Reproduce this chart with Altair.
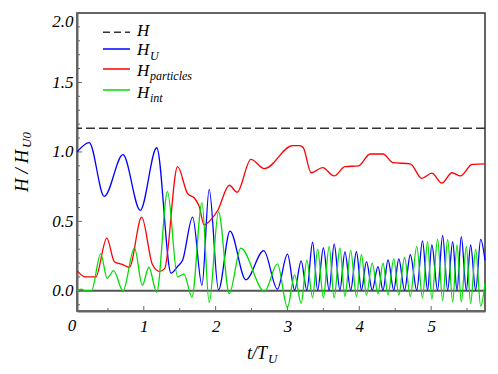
import altair as alt
import pandas as pd

# ---- data ----
HU_T = [0.07, 0.24, 0.45, 0.71, 0.95, 1.18, 1.38, 1.47, 1.54, 1.68, 1.81, 1.91, 2.04, 2.20, 2.42,
        2.67, 2.86, 3.00, 3.10, 3.19, 3.27, 3.35, 3.42, 3.50, 3.58, 3.65, 3.73, 3.80, 3.88, 3.96,
        4.03, 4.10, 4.18, 4.26, 4.33, 4.40, 4.48, 4.55, 4.63, 4.71, 4.80, 4.88, 4.95, 5.01, 5.09,
        5.16, 5.23, 5.30, 5.36, 5.42, 5.49, 5.55, 5.62, 5.69, 5.75]
HU_V = [1.00, 1.067, 0.68, 0.98, 0.58, 1.03, 0.127, 0.175, 0.22, 0.53, 0.04, 0.73, 0.007, 0.43, 0.08,
        0.29, 0.012, 0.265, 0.005, 0.216, 0.005, 0.35, 0.005, 0.31, 0.005, 0.336, 0.005, 0.28, 0.005, 0.283,
        0.005, 0.211, 0.005, 0.175, 0.005, 0.223, 0.005, 0.23, 0.005, 0.26, 0.005, 0.36, 0.005, 0.33, 0.005,
        0.40, 0.005, 0.355, 0.005, 0.39, 0.005, 0.33, 0.005, 0.37, 0.22]

HP_T = [0.07, 0.19, 0.33, 0.485, 0.59, 0.70, 0.80, 0.97, 1.12, 1.22, 1.29, 1.47, 1.61, 1.70, 1.77,
        1.84, 1.94, 2.03, 2.19, 2.30, 2.49, 2.68, 3.07, 3.17, 3.22, 3.33, 3.49, 3.65, 3.80, 3.99,
        4.15, 4.33, 4.47, 4.71, 4.87, 5.01, 5.15, 5.29, 5.41, 5.57, 5.75]
HP_V = [0.146, 0.10, 0.10, 0.38, 0.21, 0.19, 0.17, 0.53, 0.19, 0.14, 0.16, 0.894, 0.70, 0.67, 0.61,
        0.475, 0.516, 0.58, 0.76, 0.71, 0.947, 0.88, 1.045, 1.045, 1.03, 0.85, 0.887, 0.827, 0.894, 0.90,
        0.985, 0.985, 0.923, 0.914, 0.81, 0.847, 0.775, 0.85, 0.827, 0.91, 0.914]

HI_T = [0.07, 0.13, 0.19, 0.27, 0.40, 0.49, 0.58, 0.71, 0.87, 0.98, 1.07, 1.18, 1.33, 1.47, 1.56,
        1.67, 1.81, 1.91, 2.04, 2.19, 2.35, 2.68, 2.86, 3.00, 3.10, 3.19, 3.27, 3.35, 3.42, 3.50,
        3.58, 3.65, 3.73, 3.80, 3.88, 3.96, 4.03, 4.10, 4.18, 4.26, 4.33, 4.40, 4.48, 4.55, 4.63,
        4.71, 4.80, 4.88, 4.95, 5.01, 5.09, 5.16, 5.23, 5.30, 5.36, 5.42, 5.49, 5.55, 5.62, 5.69, 5.75]
HI_V = [0.0, 0.012, 0.0, 0.0, 0.266, 0.09, 0.146, 0.0, 0.31, 0.04, 0.17, -0.01, 0.714, 0.10, 0.12,
        -0.045, 0.635, -0.084, 0.57, -0.02, 0.307, -0.005, 0.194, -0.12, 0.115, -0.09, 0.22, -0.05, 0.30, -0.05,
        0.32, -0.05, 0.31, -0.04, 0.29, -0.04, 0.26, -0.03, 0.20, -0.02, 0.20, -0.03, 0.23, -0.03, 0.24,
        -0.04, 0.32, -0.05, 0.355, -0.06, 0.37, -0.07, 0.37, -0.08, 0.33, -0.08, 0.32, -0.09, 0.30, -0.11, 0.05]

H_TOTAL = [1.17]
ZERO = [0.0]

X_LABELS = [1, 2, 3, 4, 5]
X_ZERO_LABEL = [0]
X_MAJOR_TICKS = [1, 2, 3, 4, 5]
X_HALF_TICKS = [0.5, 1.5, 2.5, 3.5, 4.5, 5.5]
Y_MAJOR = [0.0, 0.5, 1.0, 1.5, 2.0]
Y_MINOR = [-0.1, 0.1, 0.2, 0.3, 0.4, 0.6, 0.7, 0.8, 0.9, 1.1, 1.2, 1.3, 1.4,
           1.6, 1.7, 1.8, 1.9]

# ---- layout ----
W, H = 408, 298
SERIF = "Times New Roman"
x_scale = alt.Scale(domain=[0.07, 5.75], nice=False, zero=False)
y_scale = alt.Scale(domain=[-0.145, 2.0], nice=False, zero=False)

x_axis = alt.Axis(values=X_LABELS, format="d", title=None, ticks=False, grid=False,
                  labelFont=SERIF, labelFontStyle="italic", labelFontSize=17, labelColor="black",
                  labelPadding=7, labelFlush=False, domainColor="#666", domainWidth=2)
y_axis = alt.Axis(values=Y_MAJOR, format=".1f", title=None, ticks=False, grid=False,
                  labelFont=SERIF, labelFontStyle="italic", labelFontSize=17, labelColor="black",
                  labelPadding=4, labelFlush=True, domainColor="#666", domainWidth=2)


def X(field="t"):
    return alt.X(f"{field}:Q", scale=x_scale, axis=x_axis)


def Y(field="v"):
    return alt.Y(f"{field}:Q", scale=y_scale, axis=y_axis)


def series(ts, vs, color):
    df = pd.DataFrame({"t": ts, "v": vs})
    return alt.Chart(df).mark_line(color=color, strokeWidth=1.3, interpolate="monotone").encode(
        x=X(), y=Y())


one = pd.DataFrame({"a": [0]})


def txt(s, x, y, size, angle=0, align="left"):
    return alt.Chart(one).mark_text(text=s, font=SERIF, fontStyle="italic", fontSize=size,
                                    angle=angle, align=align, baseline="alphabetic",
                                    color="black").encode(x=alt.value(x), y=alt.value(y))


def leg_line(y, color, dash=None):
    kw = dict(color=color, strokeWidth=1.5)
    if dash:
        kw["strokeDash"] = dash
    return alt.Chart(one).mark_rule(**kw).encode(x=alt.value(26), x2=alt.value(53), y=alt.value(y))


layers = []

# zero line and dashed total
layers.append(alt.Chart(pd.DataFrame({"v": ZERO})).mark_rule(color="#555", strokeWidth=2).encode(y=Y()))
layers.append(alt.Chart(pd.DataFrame({"v": H_TOTAL})).mark_rule(
    color="#333", strokeWidth=1.5, strokeDash=[9, 4]).encode(y=Y()))

# inward ticks
layers.append(alt.Chart(pd.DataFrame({"v": Y_MAJOR})).mark_rule(color="#666", strokeWidth=1).encode(
    y=Y(), x=alt.value(0), x2=alt.value(5)))
layers.append(alt.Chart(pd.DataFrame({"v": Y_MINOR})).mark_rule(color="#666", strokeWidth=1).encode(
    y=Y(), x=alt.value(0), x2=alt.value(3)))
layers.append(alt.Chart(pd.DataFrame({"t": X_MAJOR_TICKS})).mark_rule(color="#666", strokeWidth=1).encode(
    x=X(), y=alt.value(H), y2=alt.value(H - 5)))
layers.append(alt.Chart(pd.DataFrame({"t": X_HALF_TICKS})).mark_rule(color="#666", strokeWidth=1).encode(
    x=X(), y=alt.value(H), y2=alt.value(H - 3)))

# data series
layers.append(series(HU_T, HU_V, "#0000ff"))
layers.append(series(HP_T, HP_V, "#ff0000"))
layers.append(series(HI_T, HI_V, "#00dd00"))

# "0" label at x = 0 (just left of the frame)
layers.append(alt.Chart(pd.DataFrame({"t": X_ZERO_LABEL})).mark_text(
    font=SERIF, fontStyle="italic", fontSize=17, align="center", baseline="top", color="black").encode(
    x=X(), y=alt.value(H + 7), text=alt.Text("t:Q", format="d")))

# legend
layers.append(leg_line(19.3, "#333", [7, 4]))
layers.append(leg_line(36, "#0000ff"))
layers.append(leg_line(56, "#ff0000"))
layers.append(leg_line(77, "#00dd00"))
layers.append(txt("H", 60, 23, 17))
layers.append(txt("H", 60, 42, 17))
layers.append(txt("U", 73, 46.5, 12))
layers.append(txt("H", 60, 63, 17))
layers.append(txt("particles", 73, 66.5, 12))
layers.append(txt("H", 60, 85, 17))
layers.append(txt("int", 73, 88.5, 12))

# axis titles
layers.append(txt("H / H", -49, 179, 19, angle=270))
layers.append(txt("U0", -46, 135, 13, angle=270))
layers.append(txt("t/T", 170, 346, 18))
layers.append(txt("U", 191, 350, 13))

chart = alt.layer(*layers).properties(
    width=W, height=H,
    autosize=alt.AutoSizeParams(type="none"),
    padding={"left": 69, "top": 5, "right": 5, "bottom": 56},
).configure_view(stroke="#333", strokeWidth=1.5)

chart.save("out.html", embed_options={"renderer": "svg", "actions": False})
